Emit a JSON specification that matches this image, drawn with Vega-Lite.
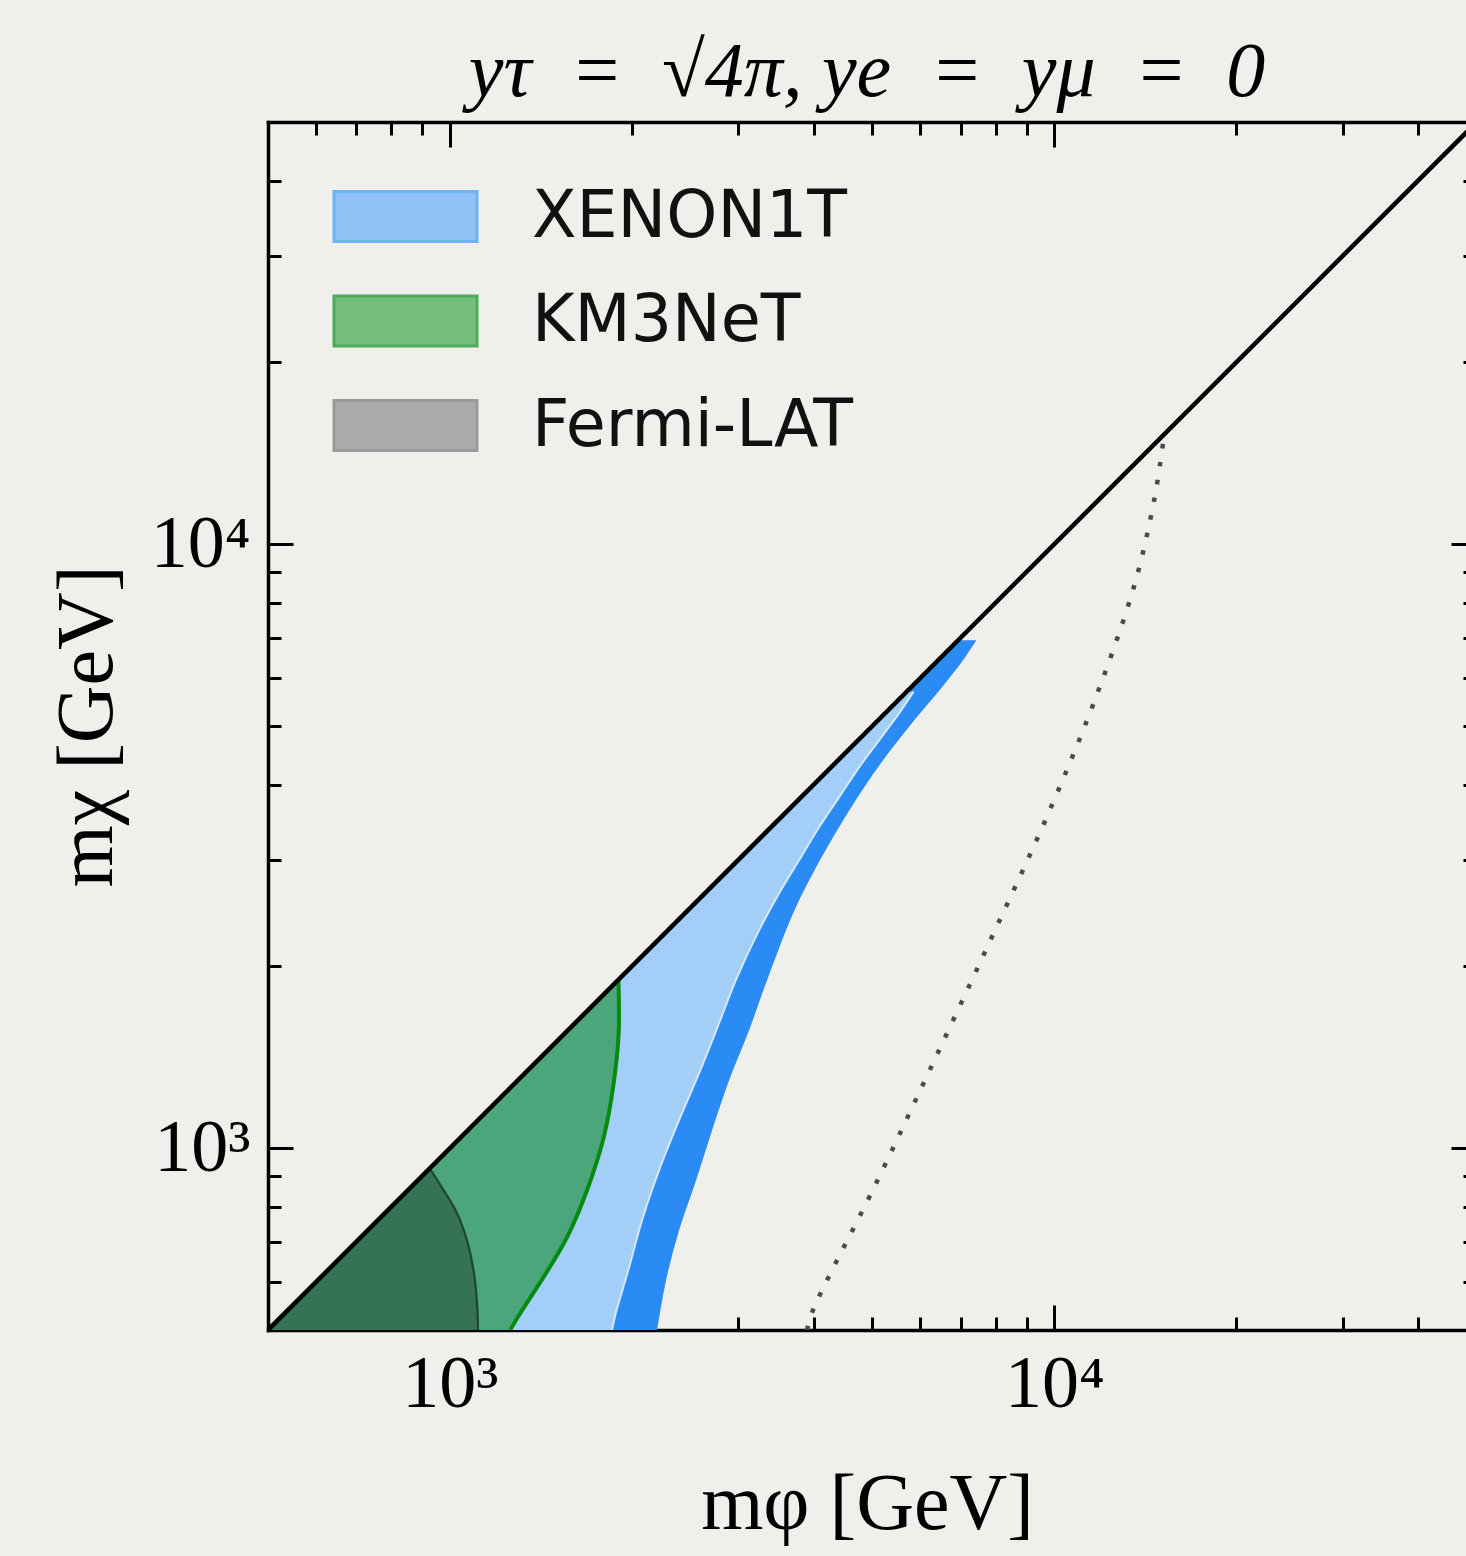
{
  "$schema": "https://vega.github.io/schema/vega-lite/v6.json",
  "width": 1198,
  "height": 1208,
  "autosize": "none",
  "padding": {"left": 268, "top": 122, "right": 0, "bottom": 226},
  "background": "#efefeb",
  "config": {
    "view": {"stroke": null, "fill": null},
    "axis": {"grid": false, "domain": false, "labelFont": "Liberation Serif", "labelFontSize": 74, "labelColor": "black", "tickColor": "black", "tickWidth": 3, "titleFont": "Liberation Serif", "titleFontSize": 80, "titleFontWeight": "normal", "titleColor": "black", "labelFlush": false, "labelOverlap": false, "labelBound": false, "zindex": 1, "domainColor": "black", "domainWidth": 3.5, "domainCap": "square"}
  },
  "title": {"text": "yτ\u2002=\u2002√4π,  ye\u2002=\u2002yμ\u2002=\u20020", "font": "Liberation Serif", "fontSize": 78, "fontStyle": "italic", "fontWeight": "normal", "color": "black", "anchor": "middle", "baseline": "alphabetic", "offset": -53},
  "datasets": {
    "dark": [
      {"mchi": 6934, "mphi": 7429, "diag": 6934},
      {"mchi": 6501, "mphi": 7122, "diag": 6501},
      {"mchi": 5798, "mphi": 6518, "diag": 5798},
      {"mchi": 5112, "mphi": 5865, "diag": 5112},
      {"mchi": 4508, "mphi": 5311, "diag": 4508},
      {"mchi": 3960, "mphi": 4848, "diag": 3960},
      {"mchi": 3491, "mphi": 4475, "diag": 3491},
      {"mchi": 2919, "mphi": 4036, "diag": 2919},
      {"mchi": 2449, "mphi": 3698, "diag": 2449},
      {"mchi": 1897, "mphi": 3348, "diag": 1897},
      {"mchi": 1568, "mphi": 3126, "diag": 1568},
      {"mchi": 1296, "mphi": 2897, "diag": 1296},
      {"mchi": 1071, "mphi": 2715, "diag": 1071},
      {"mchi": 885, "mphi": 2555, "diag": 885},
      {"mchi": 731, "mphi": 2394, "diag": 731},
      {"mchi": 605, "mphi": 2279, "diag": 605},
      {"mchi": 500, "mphi": 2202, "diag": 500}
    ],
    "light": [
      {"mchi": 5700, "mphi": 5850, "diag": 5700},
      {"mchi": 5251, "mphi": 5538, "diag": 5251},
      {"mchi": 4738, "mphi": 5133, "diag": 4738},
      {"mchi": 4274, "mphi": 4756, "diag": 4274},
      {"mchi": 3812, "mphi": 4406, "diag": 3812},
      {"mchi": 3401, "mphi": 4083, "diag": 3401},
      {"mchi": 2999, "mphi": 3783, "diag": 2999},
      {"mchi": 2644, "mphi": 3505, "diag": 2644},
      {"mchi": 2296, "mphi": 3248, "diag": 2296},
      {"mchi": 1897, "mphi": 2972, "diag": 1897},
      {"mchi": 1610, "mphi": 2788, "diag": 1610},
      {"mchi": 1331, "mphi": 2584, "diag": 1331},
      {"mchi": 1113, "mphi": 2394, "diag": 1113},
      {"mchi": 919, "mphi": 2218, "diag": 919},
      {"mchi": 760, "mphi": 2079, "diag": 760},
      {"mchi": 635, "mphi": 1979, "diag": 635},
      {"mchi": 533, "mphi": 1881, "diag": 533},
      {"mchi": 500, "mphi": 1854, "diag": 500}
    ],
    "km3": [
      {"mchi": 1900, "mphi": 1900, "diag": 1900},
      {"mchi": 1550, "mphi": 1902, "diag": 1550},
      {"mchi": 1281, "mphi": 1866, "diag": 1281},
      {"mchi": 1043, "mphi": 1797, "diag": 1043},
      {"mchi": 852, "mphi": 1686, "diag": 852},
      {"mchi": 712, "mphi": 1562, "diag": 712},
      {"mchi": 612, "mphi": 1429, "diag": 612},
      {"mchi": 533, "mphi": 1307, "diag": 533},
      {"mchi": 500, "mphi": 1258, "diag": 500}
    ],
    "fermi": [
      {"mchi": 926, "mphi": 926, "diag": 926},
      {"mchi": 852, "mphi": 976, "diag": 852},
      {"mchi": 781, "mphi": 1027, "diag": 781},
      {"mchi": 704, "mphi": 1067, "diag": 704},
      {"mchi": 628, "mphi": 1094, "diag": 628},
      {"mchi": 560, "mphi": 1108, "diag": 560},
      {"mchi": 500, "mphi": 1113, "diag": 500}
    ],
    "dotted": [
      {"mchi": 500, "mphi": 3900},
      {"mchi": 535, "mphi": 3975},
      {"mchi": 868, "mphi": 5053},
      {"mchi": 1341, "mphi": 6209},
      {"mchi": 2189, "mphi": 7806},
      {"mchi": 3559, "mphi": 9747},
      {"mchi": 5495, "mphi": 11650},
      {"mchi": 8554, "mphi": 13570},
      {"mchi": 11870, "mphi": 14640},
      {"mchi": 14800, "mphi": 15150}
    ],
    "diagonal": [
      {"mchi": 500, "mphi": 500},
      {"mchi": 50000, "mphi": 50000}
    ],
    "legend": [
      {"name": "XENON1T", "mphi": 200, "mchi": 200},
      {"name": "KM3NeT", "mphi": 200, "mchi": 200},
      {"name": "Fermi-LAT", "mphi": 200, "mchi": 200}
    ]
  },
  "resolve": {"axis": {"x": "independent", "y": "independent"}},
  "layer": [
    {
      "data": {"name": "dark"},
      "mark": {"type": "area", "orient": "horizontal", "interpolate": "catmull-rom", "fill": "#2b8bf5", "clip": true},
      "encoding": {
        "y": {"field": "mchi", "type": "quantitative", "scale": {"type": "log", "domain": [500, 50000], "nice": false},
              "axis": {"orient": "left", "values": [1000, 10000], "labelExpr": "datum.value == 1000 ? '10³' : '10⁴'", "ticks": false, "domain": true, "labelPadding": 18, "title": "mχ [GeV]", "titlePadding": 22}},
        "x": {"field": "mphi", "type": "quantitative", "scale": {"type": "log", "domain": [500, 48000], "nice": false},
              "axis": {"orient": "bottom", "values": [1000, 10000], "labelExpr": "datum.value == 1000 ? '10³' : '10⁴'", "ticks": false, "domain": true, "labelPadding": 18, "title": "mφ [GeV]", "titlePadding": 44}},
        "x2": {"field": "diag"}
      }
    },
    {
      "data": {"name": "light"},
      "mark": {"type": "area", "orient": "horizontal", "interpolate": "catmull-rom", "fill": "#a3cef8", "clip": true},
      "encoding": {
        "y": {"field": "mchi", "type": "quantitative", "axis": {"orient": "left", "values": [1000, 10000], "tickSize": -25, "labels": false, "title": null}},
        "x": {"field": "mphi", "type": "quantitative", "axis": {"orient": "bottom", "values": [1000, 10000], "tickSize": -25, "labels": false, "title": null}},
        "x2": {"field": "diag"}
      }
    },
    {
      "data": {"name": "km3"},
      "mark": {"type": "area", "orient": "horizontal", "interpolate": "catmull-rom", "fill": "#4ba67b", "clip": true},
      "encoding": {
        "y": {"field": "mchi", "type": "quantitative", "axis": {"orient": "left", "values": [600, 700, 800, 900, 2000, 3000, 4000, 5000, 6000, 7000, 8000, 9000, 20000, 30000, 40000], "tickSize": -13, "labels": false, "title": null}},
        "x": {"field": "mphi", "type": "quantitative", "axis": {"orient": "bottom", "values": [600, 700, 800, 900, 2000, 3000, 4000, 5000, 6000, 7000, 8000, 9000, 20000, 30000, 40000], "tickSize": -13, "labels": false, "title": null}},
        "x2": {"field": "diag"}
      }
    },
    {
      "data": {"name": "fermi"},
      "mark": {"type": "area", "orient": "horizontal", "interpolate": "catmull-rom", "fill": "#367255", "clip": true},
      "encoding": {
        "y": {"field": "mchi", "type": "quantitative", "axis": {"orient": "right", "values": [1000, 10000], "tickSize": -15, "labels": false, "title": null}},
        "x": {"field": "mphi", "type": "quantitative", "axis": {"orient": "top", "values": [1000, 10000], "tickSize": -25, "labels": false, "title": null, "domain": true}},
        "x2": {"field": "diag"}
      }
    },
    {
      "data": {"name": "light"},
      "mark": {"type": "line", "interpolate": "catmull-rom", "stroke": "#d6e9fb", "strokeWidth": 2, "clip": true},
      "encoding": {
        "y": {"field": "mchi", "type": "quantitative", "axis": {"orient": "right", "values": [600, 700, 800, 900, 2000, 3000, 4000, 5000, 6000, 7000, 8000, 9000, 20000, 30000, 40000], "tickSize": -3, "labels": false, "title": null}},
        "x": {"field": "mphi", "type": "quantitative", "axis": {"orient": "top", "values": [600, 700, 800, 900, 2000, 3000, 4000, 5000, 6000, 7000, 8000, 9000, 20000, 30000, 40000], "tickSize": -13, "labels": false, "title": null}},
        "order": {"field": "mchi", "type": "quantitative"}
      }
    },
    {
      "data": {"name": "km3"},
      "mark": {"type": "line", "interpolate": "catmull-rom", "stroke": "#078a10", "strokeWidth": 4, "clip": true},
      "encoding": {
        "y": {"field": "mchi", "type": "quantitative", "axis": null},
        "x": {"field": "mphi", "type": "quantitative", "axis": null},
        "order": {"field": "mchi", "type": "quantitative"}
      }
    },
    {
      "data": {"name": "fermi"},
      "mark": {"type": "line", "interpolate": "catmull-rom", "stroke": "#1d4630", "strokeWidth": 2.2, "clip": true},
      "encoding": {
        "y": {"field": "mchi", "type": "quantitative", "axis": null},
        "x": {"field": "mphi", "type": "quantitative", "axis": null},
        "order": {"field": "mchi", "type": "quantitative"}
      }
    },
    {
      "data": {"name": "dotted"},
      "mark": {"type": "line", "interpolate": "catmull-rom", "stroke": "#4a4a4a", "strokeWidth": 4.5, "strokeDash": [4.5, 13.5], "clip": true},
      "encoding": {
        "y": {"field": "mchi", "type": "quantitative", "axis": null},
        "x": {"field": "mphi", "type": "quantitative", "axis": null},
        "order": {"field": "mchi", "type": "quantitative"}
      }
    },
    {
      "data": {"name": "diagonal"},
      "mark": {"type": "line", "stroke": "black", "strokeWidth": 4.5, "clip": true},
      "encoding": {
        "y": {"field": "mchi", "type": "quantitative", "axis": null},
        "x": {"field": "mphi", "type": "quantitative", "axis": null}
      }
    },
    {
      "data": {"name": "legend"},
      "mark": {"type": "point", "filled": true, "opacity": 1, "fillOpacity": 1, "strokeOpacity": 1, "shape": "M-2.86,-1H2.86V1H-2.86Z", "size": 2500, "clip": true},
      "encoding": {
        "y": {"field": "mchi", "type": "quantitative", "axis": null},
        "x": {"field": "mphi", "type": "quantitative", "axis": null},
        "fill": {"field": "name", "type": "nominal",
                 "scale": {"domain": ["XENON1T", "KM3NeT", "Fermi-LAT"], "range": ["#8fc1f6", "#74be7c", "#aaaaaa"]},
                 "legend": {"orient": "none", "legendX": 105, "legendY": 62, "title": null, "padding": 0, "symbolType": "M-2.86,-1H2.86V1H-2.86Z", "symbolSize": 2500, "symbolStrokeWidth": 3, "symbolOpacity": 1, "labelFont": "DejaVu Sans", "labelFontSize": 65, "labelColor": "#111111", "labelOffset": 94, "labelLimit": 1000, "rowPadding": 38.5,
                            "encode": {"symbols": {"update": {"opacity": {"value": 1}, "fillOpacity": {"value": 1}, "strokeOpacity": {"value": 1}}}}}},
        "stroke": {"field": "name", "type": "nominal",
                   "scale": {"domain": ["XENON1T", "KM3NeT", "Fermi-LAT"], "range": ["#6cb2f4", "#4cac5a", "#9a9a9a"]}}
      }
    }
  ]
}
